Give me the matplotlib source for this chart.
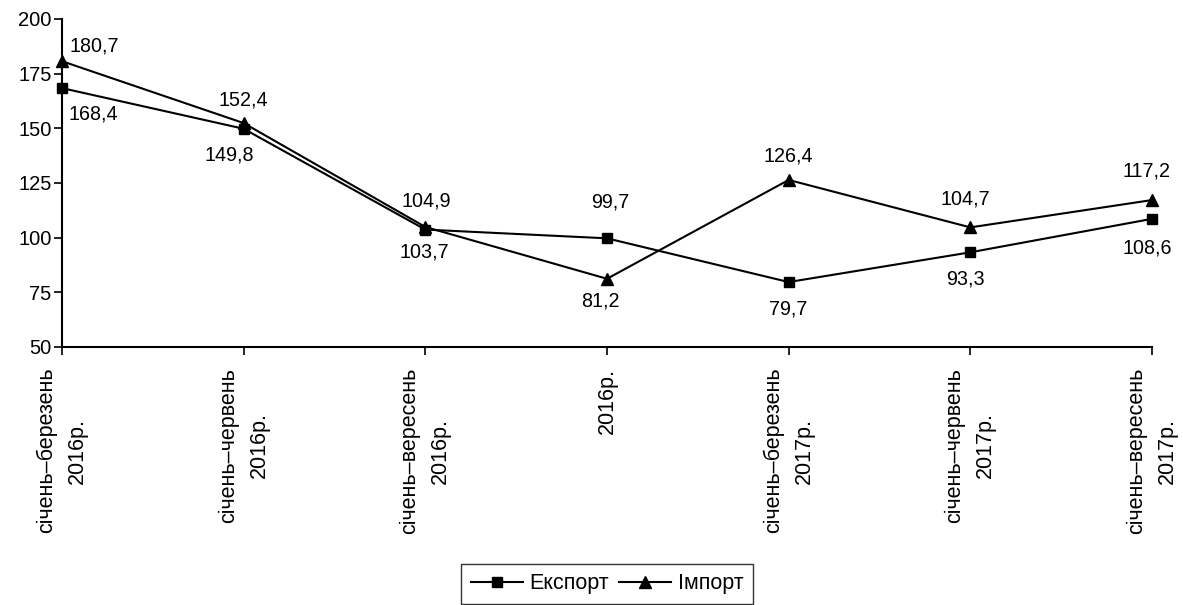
import matplotlib
matplotlib.use("Agg")
import matplotlib.pyplot as plt

plt.rcParams['font.family'] = ['Liberation Sans', 'DejaVu Sans']

categories = ["січень–березень\n2016р.", "січень–червень\n2016р.", "січень–вересень\n2016р.",
              "2016р.", "січень–березень\n2017р.", "січень–червень\n2017р.", "січень–вересень\n2017р."]
export_vals = [168.4, 149.8, 103.7, 99.7, 79.7, 93.3, 108.6]
import_vals = [180.7, 152.4, 104.9, 81.2, 126.4, 104.7, 117.2]
export_labels = ["168,4", "149,8", "103,7", "99,7", "79,7", "93,3", "108,6"]
import_labels = ["180,7", "152,4", "104,9", "81,2", "126,4", "104,7", "117,2"]
y_ticks = [50, 75, 100, 125, 150, 175, 200]

# label offsets in pixels (dx, dy) with dy positive = up
export_off = [(31, -26), (-14, -26), (-1, -22), (3, 36), (0, -27), (-5, -27), (-5, -29)]
import_off = [(32, 15), (0, 23), (1, 26), (-7, -22), (0, 24), (-5, 28), (-5, 29)]

fig = plt.figure(figsize=(11.83, 6.05), dpi=100)
ax = fig.add_axes([62/1183, 1-347/605, (1152-62)/1183, (347-19)/605])

x = list(range(len(categories)))
ax.plot(x, export_vals, color='black', lw=1.5, marker='s', ms=7, label='Експорт', clip_on=False, zorder=3)
ax.plot(x, import_vals, color='black', lw=1.5, marker='^', ms=8, label='Імпорт', clip_on=False, zorder=3)

fs_data = 14.2
for xi, v, lab, (dx, dy) in zip(x, export_vals, export_labels, export_off):
    ax.annotate(lab, (xi, v), xytext=(dx, dy), textcoords='offset pixels',
                ha='center', va='center', fontsize=fs_data)
for xi, v, lab, (dx, dy) in zip(x, import_vals, import_labels, import_off):
    ax.annotate(lab, (xi, v), xytext=(dx, dy), textcoords='offset pixels',
                ha='center', va='center', fontsize=fs_data)

ax.set_xlim(0, len(categories) - 1)
ax.set_ylim(50, 200)
ax.set_yticks(y_ticks)
ax.set_yticklabels([str(t) for t in y_ticks], fontsize=14.5)
ax.set_xticks(x)
ax.set_xticklabels(categories, rotation=90, fontsize=15.5, ha='center', va='top',
                   multialignment='center', linespacing=1.6)
ax.tick_params(axis='both', direction='out', length=6, width=1.2, color='black', pad=1.5)
ax.tick_params(axis='x', pad=9)
for s in ['top', 'right']:
    ax.spines[s].set_visible(False)
for s in ['left', 'bottom']:
    ax.spines[s].set_linewidth(1.5)

leg = fig.legend(loc='center', bbox_to_anchor=(607/1183, 1-584/605), ncol=2,
                 fontsize=15.5, frameon=True, fancybox=False, edgecolor='black',
                 handlelength=2.4, columnspacing=0.5, handletextpad=0.3, borderpad=0.45)
leg.get_frame().set_linewidth(1.0)

fig.savefig('out.png', dpi=100)
